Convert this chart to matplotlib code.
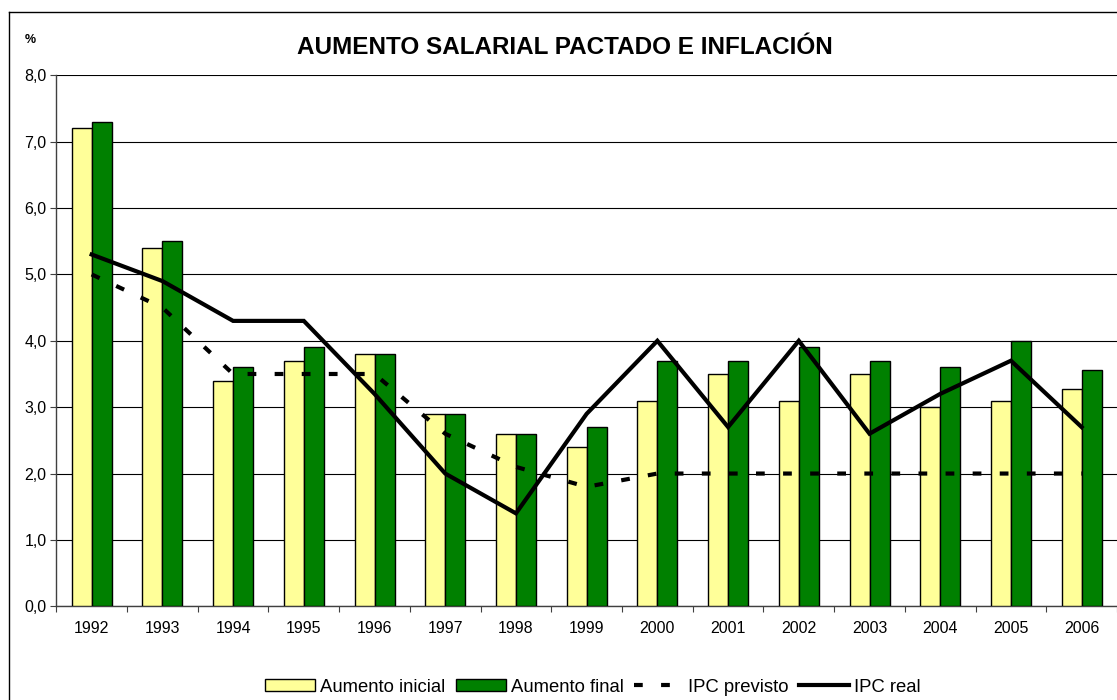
import matplotlib
matplotlib.use("Agg")
import matplotlib.pyplot as plt
import numpy as np
from matplotlib.patches import Patch
from matplotlib.lines import Line2D

years = ["1992", "1993", "1994", "1995", "1996", "1997", "1998", "1999",
         "2000", "2001", "2002", "2003", "2004", "2005", "2006"]
aumento_inicial = [7.2, 5.4, 3.4, 3.7, 3.8, 2.9, 2.6, 2.4, 3.1, 3.5, 3.1, 3.5, 3.0, 3.1, 3.27]
aumento_final = [7.3, 5.5, 3.6, 3.9, 3.8, 2.9, 2.6, 2.7, 3.7, 3.7, 3.9, 3.7, 3.6, 4.0, 3.56]
ipc_previsto = [5.0, 4.5, 3.5, 3.5, 3.5, 2.6, 2.1, 1.8, 2.0, 2.0, 2.0, 2.0, 2.0, 2.0, 2.0]
ipc_real = [5.3, 4.9, 4.3, 4.3, 3.2, 2.0, 1.4, 2.9, 4.0, 2.7, 4.0, 2.6, 3.2, 3.7, 2.7]
yticks = [0, 1, 2, 3, 4, 5, 6, 7, 8]
ytick_labels = ["0,0", "1,0", "2,0", "3,0", "4,0", "5,0", "6,0", "7,0", "8,0"]

plt.rcParams['font.family'] = ['Liberation Sans', 'DejaVu Sans']

W, H = 1117, 700
fig = plt.figure(figsize=(W / 100, H / 100), dpi=100)
ax = fig.add_axes([56.3 / W, 1 - 606.3 / H, (W - 56.3) / W, 531 / H])

x = np.arange(len(years))
bw = 0.2828
ax.bar(x - bw / 2, aumento_inicial, width=bw, color="#FFFF99", edgecolor="black", linewidth=1.0, zorder=3)
ax.bar(x + bw / 2, aumento_final, width=bw, color="#008000", edgecolor="black", linewidth=1.0, zorder=3)
ax.plot(x, ipc_previsto, color="black", linewidth=3.0, dashes=(2.1, 4.4), dash_capstyle='butt', zorder=4)
ax.plot(x, ipc_real, color="black", linewidth=3.0, solid_joinstyle='miter', zorder=5)

ax.set_xlim(-0.5, len(years) - 0.5)
ax.set_ylim(0, 8)
ax.set_yticks(yticks)
ax.set_yticklabels(ytick_labels)
ax.yaxis.grid(True, color="black", linewidth=0.8, zorder=0)
ax.set_axisbelow(True)

ax.set_xticks(np.arange(len(years) + 1) - 0.5)
ax.set_xticklabels([])
ax.set_xticks(x, minor=True)
ax.set_xticklabels(years, minor=True)
ax.tick_params(axis='x', which='major', direction='out', length=4, width=0.8, color='#404040')
ax.tick_params(axis='x', which='minor', length=0, pad=10.5, labelsize=11.5)
ax.tick_params(axis='y', direction='out', length=4, width=0.8, color='#404040', labelsize=11.5, pad=3)

for s in ['top', 'right']:
    ax.spines[s].set_visible(False)
for s in ['left', 'bottom']:
    ax.spines[s].set_color('#404040')
    ax.spines[s].set_linewidth(1.0)

fig.text(565 / W, 1 - 47 / H, "AUMENTO SALARIAL PACTADO E INFLACIÓN", ha='center', va='center',
         fontsize=17.5, fontweight='bold')
fig.text(30 / W, 1 - 40 / H, "%", ha='center', va='center', fontsize=9, fontweight='bold')

# outer frame
fig.add_artist(Line2D([9 / W, 1.0], [1 - 12 / H, 1 - 12 / H], color='black', linewidth=1.0, transform=fig.transFigure))
fig.add_artist(Line2D([9 / W, 9 / W], [0, 1 - 12 / H], color='black', linewidth=1.0, transform=fig.transFigure))

handles = [
    Patch(facecolor="#FFFF99", edgecolor="black", linewidth=1.0),
    Patch(facecolor="#008000", edgecolor="black", linewidth=1.0),
    Line2D([0], [0], color="black", linewidth=3.0, dashes=(2.1, 4.4)),
    Line2D([0], [0], color="black", linewidth=3.0),
]
labels = ["Aumento inicial", "Aumento final", "IPC previsto", "IPC real"]
fig.legend(handles, labels, loc='center', bbox_to_anchor=(593 / W, 1 - 687 / H), ncol=4, frameon=False,
           handlelength=2.7, handleheight=0.55, handletextpad=0.27, columnspacing=0.55,
           prop={'size': 13.3})

fig.savefig("out.png", dpi=100)
